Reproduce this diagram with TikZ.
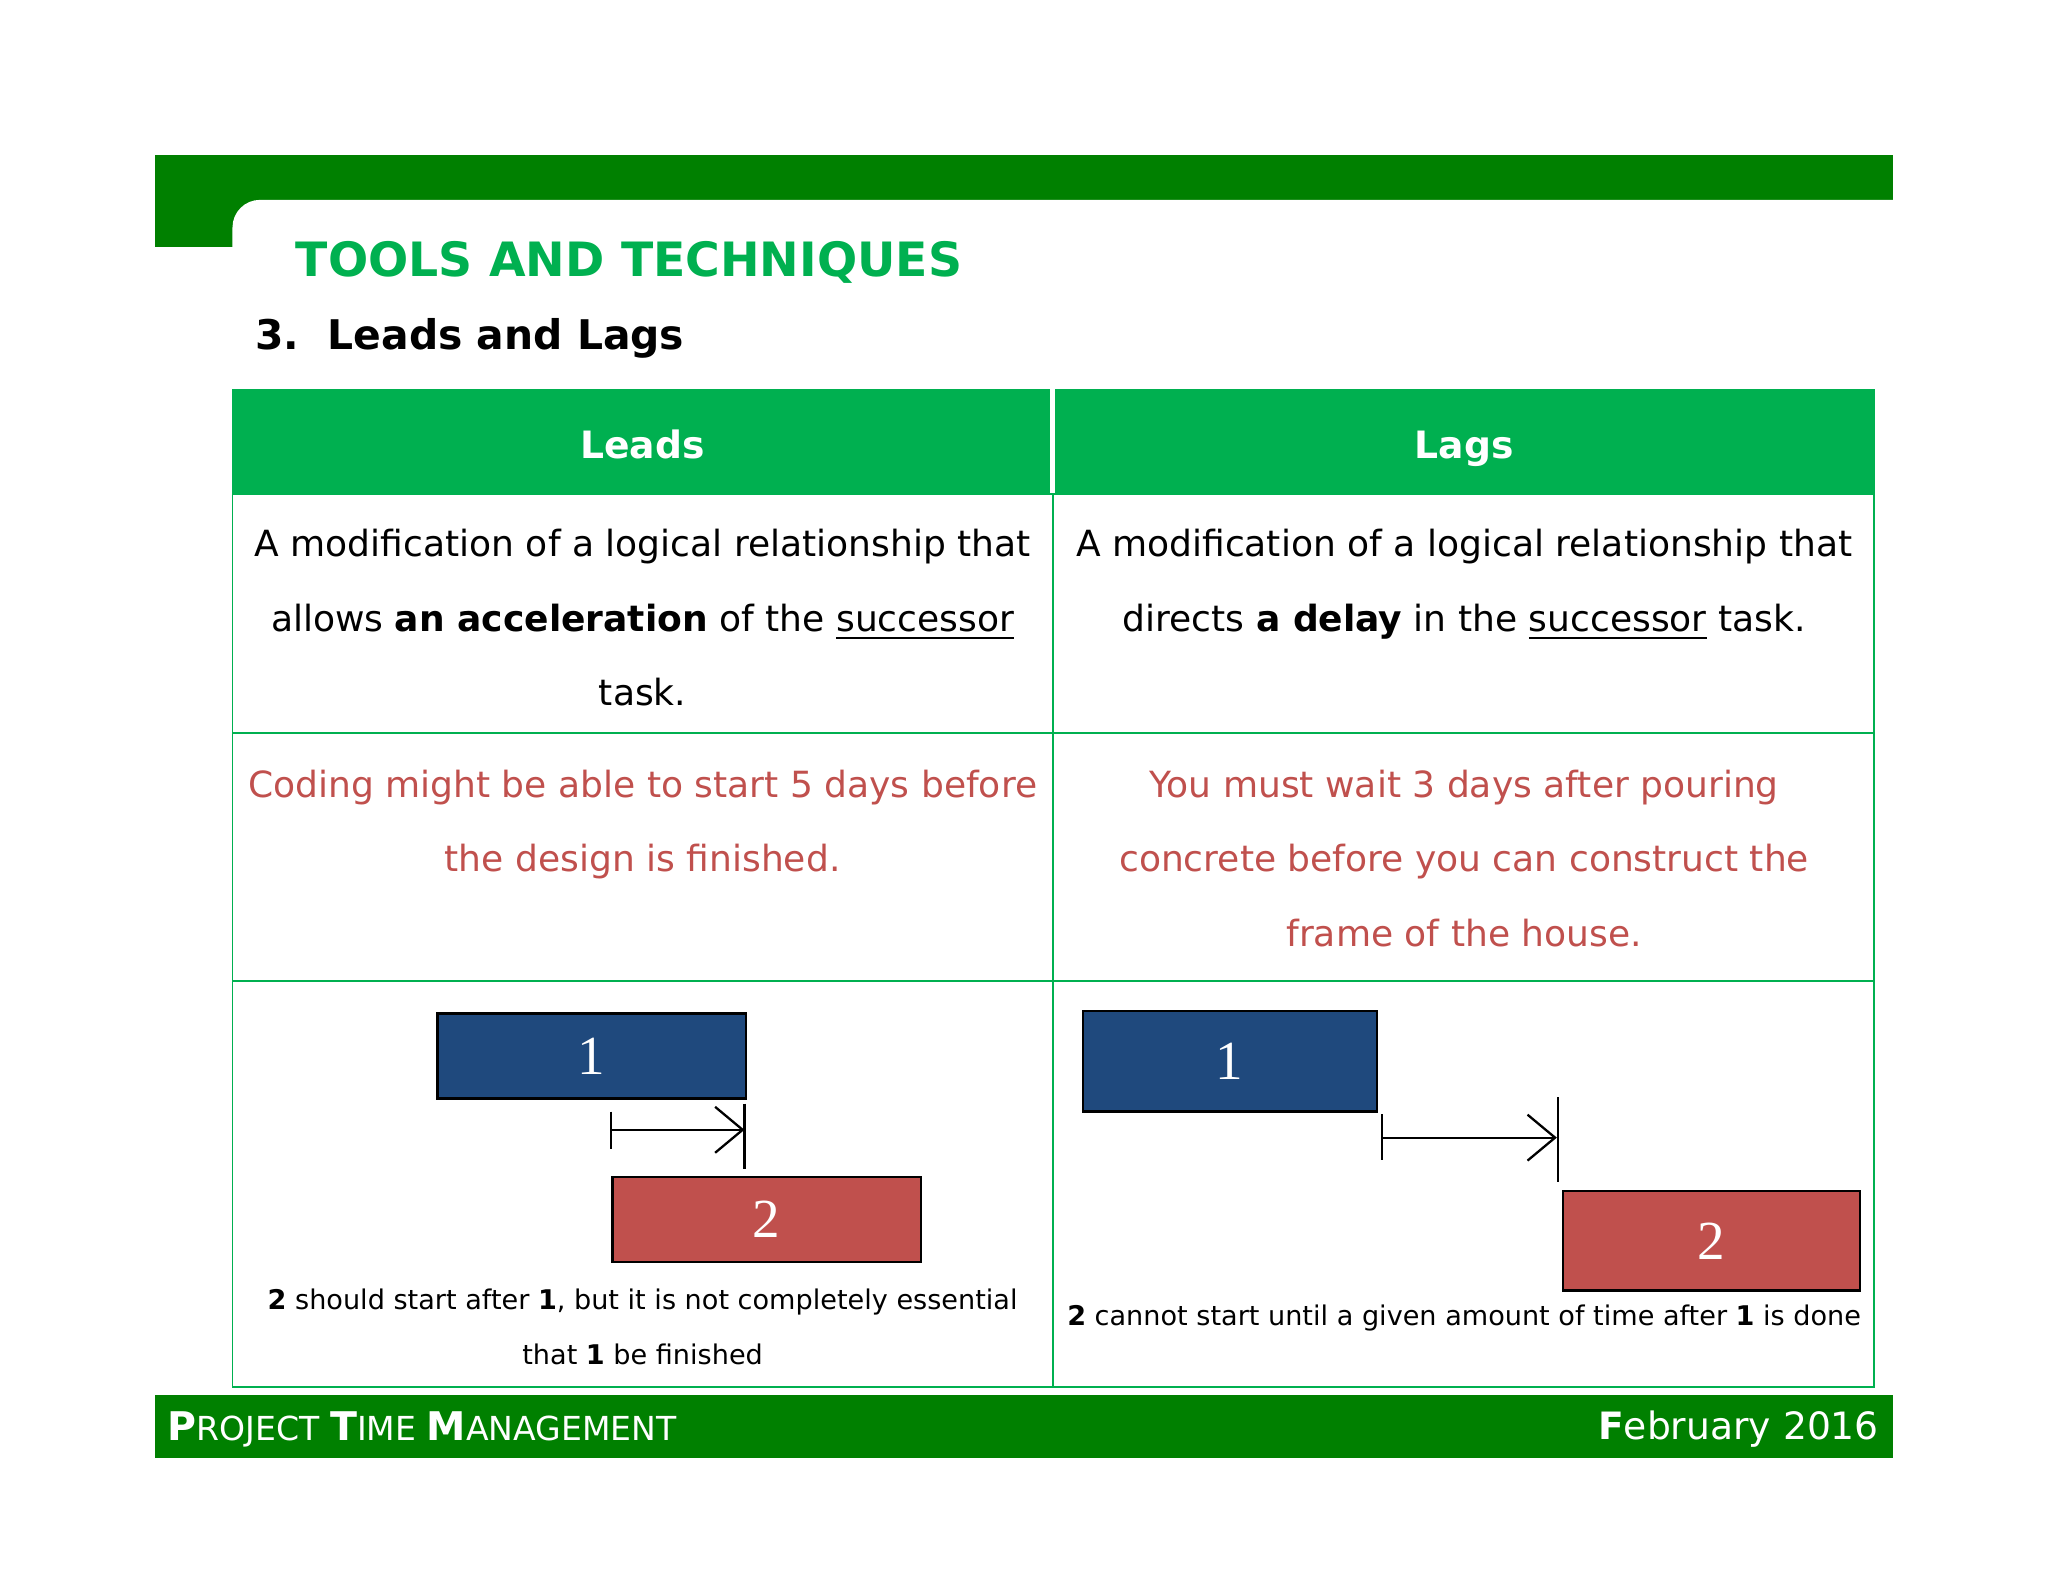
\documentclass[tikz,border=0pt]{standalone}
\usepackage{fontspec}
\setmainfont{DejaVu Sans}
\newfontfamily\serifnum{Liberation Serif}
\usetikzlibrary{arrows.meta,calc}
\hyphenpenalty=10000
\definecolor{dg}{HTML}{008000}
\definecolor{lg}{HTML}{00B050}
\definecolor{bl}{HTML}{1F497D}
\definecolor{rd}{HTML}{C0504D}
\tikzset{
 cell/.style={draw=lg,line width=0.4pt},
 body/.style={align=flush center,font=\fontsize{7.85}{16.2}\selectfont,text width=6.15cm},
 redtxt/.style={body,text=rd},
 taskbox/.style={draw=black,line width=0.5pt,font=\serifnum\fontsize{12}{12}\selectfont,text=white},
 captxt/.style={align=center,font=\fontsize{5.9}{12}\selectfont},
 lnk/.style={line width=0.5pt},
 hdr/.style={text=white,font=\bfseries\fontsize{8.2}{10}\selectfont,anchor=base},
}
\begin{document}
\begin{tikzpicture}[x=0.01cm,y=-0.01cm]
\useasboundingbox (0,0) rectangle (1568,1211);
% header bar
\fill[dg] (119,119) rectangle (1449,153);
\fill[dg] (119,119) rectangle (200,189);
\fill[white,rounded corners=6pt] (178,153) rectangle (1500,260);
\fill[white] (1449,153) rectangle (1568,260);
\node[anchor=west,text=lg,font=\bfseries\fontsize{10.3}{12}\selectfont] (title) at (214,201) {TOOLS AND TECHNIQUES};
\node[anchor=west,font=\bfseries\fontsize{8.9}{12}\selectfont] (sub) at (183,259) {3.\ \ Leads and Lags};
% table
\fill[lg] (178,298) rectangle (1435,378);
\draw[white,line width=1pt] (806,298) -- (806,378);
\draw[cell] (178,378) rectangle (1435,1062);
\draw[cell] (178,298) -- (178,378) (1435,298) -- (1435,378);
\draw[cell] (806,378) -- (806,1062);
\draw[cell] (178,561) -- (1435,561);
\draw[cell] (178,751) -- (1435,751);
\node[hdr] (hl) at (492,351) {Leads};
\node[hdr] (hr) at (1121,351) {Lags};
\node[body,anchor=north] (d1) at (492,393) {A modification of a logical relationship that allows \textbf{an acceleration} of the \underline{successor} task.};
\node[body,anchor=north] (d2) at (1121,393) {A modification of a logical relationship that directs \textbf{a delay} in the \underline{successor} task.};
\node[redtxt,anchor=north] (e1) at (492,577) {Coding might be able to start 5 days before the design is finished.};
\node[redtxt,anchor=north,text width=5.5cm] (e2) at (1121,577) {You must wait 3 days after pouring concrete before you can construct the frame of the house.};
% left diagram
\node[taskbox,fill=bl,minimum width=2.36cm,minimum height=0.65cm] (l1) at (453,808.5) {1};
\node[taskbox,fill=rd,minimum width=2.36cm,minimum height=0.65cm] (l2) at (587,933.5) {2};
\coordinate (la) at (468,865);
\coordinate (lb) at (570,865);
\draw[lnk] ($(la)+(0,-14)$) -- ($(la)+(0,15)$);
\draw[lnk] ($(lb)+(0,-20)$) -- ($(lb)+(0,30)$);
\draw[lnk,-{Straight Barb[length=6pt,width=10pt]}] (la) -- (lb);
\node[captxt] (c1) at (492,1016) {\textbf{2} should start after \textbf{1}, but it is not completely essential\\that \textbf{1} be finished};
% right diagram
\node[taskbox,fill=bl,minimum width=2.25cm,minimum height=0.77cm] (r1) at (941.5,812.5) {1};
\node[taskbox,fill=rd,minimum width=2.27cm,minimum height=0.76cm] (r2) at (1310.5,950) {2};
\coordinate (ra) at (1058,871);
\coordinate (rb) at (1192,871);
\draw[lnk] ($(ra)+(0,-18)$) -- ($(ra)+(0,17)$);
\draw[lnk] ($(rb)+(1,-31)$) -- ($(rb)+(1,34)$);
\draw[lnk,-{Straight Barb[length=6pt,width=10pt]}] (ra) -- (rb);
\node[captxt] (c2) at (1121,1009) {\textbf{2} cannot start until a given amount of time after \textbf{1} is done};
% footer
\fill[dg] (119,1068) rectangle (1449,1116);
\node[anchor=west,text=white,font=\fontsize{7.2}{9}\selectfont] (f1) at (116,1094) {\textbf{\fontsize{8.6}{9}\selectfont P}ROJECT \textbf{\fontsize{8.6}{9}\selectfont T}IME \textbf{\fontsize{8.6}{9}\selectfont M}ANAGEMENT};
\node[anchor=east,text=white,font=\fontsize{8.2}{9}\selectfont] (f2) at (1451,1094) {\textbf{F}ebruary 2016};
\end{tikzpicture}
\end{document}
